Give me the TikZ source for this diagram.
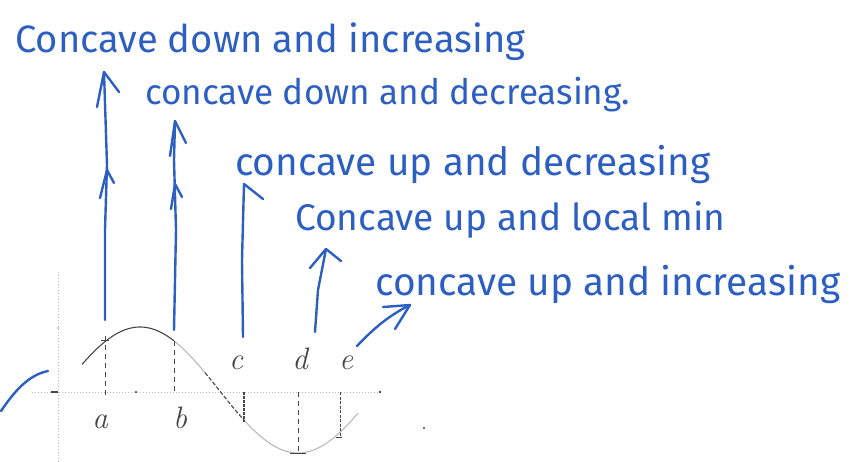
\documentclass[tikz,border=0pt]{standalone}
\usepackage{fontspec}
\setmainfont{Fira Sans}
\newfontfamily\lblfont{Latin Modern Roman}
\usepackage{graphicx}
\definecolor{pen}{RGB}{45,95,195}
\definecolor{inkdark}{RGB}{70,70,70}
\definecolor{inklight}{RGB}{185,185,185}
\begin{document}
\begin{tikzpicture}[x=1pt,y=-1pt,
  penline/.style={draw=pen,line width=2.4pt,line cap=round,line join=round},
  note/.style={anchor=base west,inner sep=0pt,text=pen},
  axisline/.style={draw=inklight,line width=1pt,dotted},
  drop/.style={draw=inkdark,line width=1pt,dash pattern=on 5pt off 4pt},
  ptlabel/.style={anchor=base,text=inkdark,font=\lblfont\itshape\fontsize{31}{31}\selectfont,inner sep=0pt}]
\useasboundingbox (0,0) rectangle (858,462);

% axes
\draw[axisline] (32,392) -- (380,392);
\draw[axisline] (58,272) -- (58,462);
\draw[inkdark,line width=1.2pt] (51,392) -- (58,392);
\fill[inkdark] (380,392) circle (1.3pt);
\fill[inkdark] (136,392) circle (1.1pt);
\fill[inklight] (58,328) circle (1.2pt);
\fill[inkdark] (424,428) circle (1.2pt);

% curve
\draw[inkdark,line width=1.1pt] plot[domain=82:174,samples=40] ({\x},{390-63*cos((\x-140)/158*180)});
\draw[inklight,line width=1.1pt] plot[domain=174:205,samples=20] ({\x},{390-63*cos((\x-140)/158*180)});
\draw[inkdark,line width=1.1pt,dash pattern=on 4pt off 2pt] plot[domain=205:244,samples=20] ({\x},{390-63*cos((\x-140)/158*180)});
\draw[inklight,line width=1.1pt] plot[domain=244:358,samples=50] ({\x},{390-63*cos((\x-140)/158*180)});

% drop lines
\draw[drop] (105,336) -- (105,399);
\draw[inkdark,line width=1pt] (101,340) -- (109,340);
\draw[drop] (174,341) -- (174,392);
\draw[inkdark,line width=1.1pt,dash pattern=on 3pt off 1pt] (244,392) -- (244,422);
\draw[drop] (298,392) -- (298,453);
\draw[inkdark,line width=1pt] (290,453) -- (306,453);
\draw[inkdark,line width=1pt,dash pattern=on 3pt off 1.5pt] (340,392) -- (340,437);
\draw[inkdark,line width=1pt] (336,437) -- (342,437);

% point labels
\node[ptlabel] (la) at (100,428) {a};
\node[ptlabel] (lb) at (180,428) {b};
\node[ptlabel] (lc) at (236,369) {c};
\node[ptlabel] (ld) at (300,369) {d};
\node[ptlabel] (le) at (346,369) {e};

% notes
\node[note] (t1) at (15,53) {\resizebox{510pt}{!}{Concave down and increasing}};
\node[note] (t2) at (145,105) {\resizebox{485pt}{!}{concave down and decreasing.}};
\node[note] (t3) at (235,176) {\resizebox{475pt}{!}{concave up and decreasing}};
\node[note] (t4) at (295,230) {\resizebox{430pt}{!}{Concave up and local min}};
\node[note] (t5) at (375,295) {\resizebox{465pt}{!}{concave up and increasing}};

% arrow anchors
\coordinate (a1s) at (105,320); \coordinate (a1t) at (104,72);
\coordinate (a2s) at (174,330); \coordinate (a2t) at (175,121);
\coordinate (a3s) at (243,337); \coordinate (a3t) at (244,184);
\coordinate (a4s) at (315,332); \coordinate (a4t) at (326,249);
\coordinate (a5s) at (357,346); \coordinate (a5t) at (410,305);

% blue arrows
\draw[penline] (a1s) -- (105,230) -- (107,165) -- (a1t);
\draw[penline] (97,107) -- (a1t) -- (119,92);
\draw[penline] (100,198) -- (107,170) -- (114,183);

\draw[penline] (a2s) -- (176,230) -- (174,160) -- (a2t);
\draw[penline] (170,156) -- (a2t) -- (186,143);
\draw[penline] (171,209) -- (175,184) -- (182,197);

\draw[penline] (a3s) -- (242,260) -- (a3t) -- (263,199);

\draw[penline] (a4s) -- (318,290) -- (a4t);
\draw[penline] (310,268) -- (a4t) -- (341,261);

\draw[penline] (a5s) .. controls (375,327) and (390,315) .. (a5t);
\draw[penline] (383,307) -- (a5t) -- (395,329);

% left stroke
\draw[penline] (1,411) .. controls (14,392) and (28,375) .. (48,371);
\end{tikzpicture}
\end{document}
